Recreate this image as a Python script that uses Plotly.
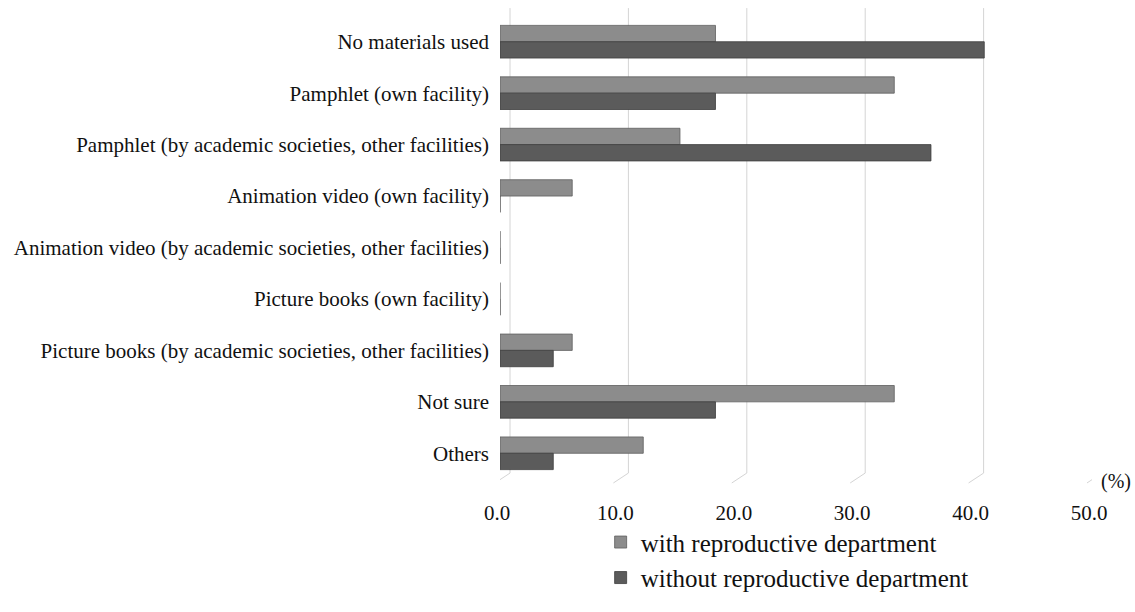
import plotly.graph_objects as go

categories = [
    "No materials used",
    "Pamphlet (own facility)",
    "Pamphlet (by academic societies, other facilities)",
    "Animation video (own facility)",
    "Animation video (by academic societies, other facilities)",
    "Picture books (own facility)",
    "Picture books (by academic societies, other facilities)",
    "Not sure",
    "Others",
]
with_dept = [18.2, 33.3, 15.2, 6.1, 0.0, 0.0, 6.1, 33.3, 12.1]
without_dept = [40.9, 18.2, 36.4, 0.0, 0.0, 0.0, 4.5, 18.2, 4.5]
tick_vals = [0, 10, 20, 30, 40, 50]
tick_text = ["0.0", "10.0", "20.0", "30.0", "40.0", "50.0"]
series_names = ["with reproductive department", "without reproductive department"]

FONT = "Liberation Serif, Times New Roman, serif"
PLOT_H = 468

fig = go.Figure()
fig.add_trace(go.Bar(
    y=categories, x=with_dept, orientation="h", name=series_names[0],
    marker=dict(color="#8c8c8c", line=dict(color="#5e5e5e", width=0.8)),
    legendgroup="a",
))
fig.add_trace(go.Bar(
    y=categories, x=without_dept, orientation="h", name=series_names[1],
    marker=dict(color="#5b5b5b", line=dict(color="#3e3e3e", width=0.8)),
    legendgroup="b",
))

shapes = []
for v in tick_vals:
    # back-wall gridline (3D look)
    shapes.append(dict(type="line", xref="x", xsizemode="pixel", xanchor=v,
                       x0=10, x1=10, yref="paper", y0=6 / PLOT_H, y1=1 + 8 / PLOT_H,
                       line=dict(color="#d4d4d4", width=1), layer="below"))
    # floor foot
    shapes.append(dict(type="line", xref="x", xsizemode="pixel", xanchor=v,
                       x0=-5, x1=10, yref="paper", y0=-4 / PLOT_H, y1=6 / PLOT_H,
                       line=dict(color="#d4d4d4", width=1), layer="below"))

fig.update_layout(
    width=1135, height=612,
    margin=dict(l=500, r=43, t=16, b=128),
    paper_bgcolor="white", plot_bgcolor="white",
    barmode="group", bargap=0.365, bargroupgap=0,
    font=dict(family=FONT, size=21, color="#111111"),
    shapes=shapes,
    showlegend=True,
    legend=dict(x=0.17, y=-0.262, xanchor="left", yanchor="bottom",
                orientation="v", font=dict(size=25, family=FONT, color="#111111"),
                tracegroupgap=0, bgcolor="rgba(0,0,0,0)"),
    annotations=[dict(text="(%)", xref="paper", yref="paper", x=1.04, y=-0.005,
                      showarrow=False, font=dict(size=20, family=FONT, color="#111111"),
                      xanchor="center", yanchor="middle")],
)
fig.update_xaxes(range=[0, 50], tickvals=tick_vals, ticktext=tick_text,
                 showgrid=False, zeroline=False, showline=False, ticks="",
                 ticklabelstandoff=19, ticklabelshift=-3, fixedrange=True)
fig.update_yaxes(autorange="reversed", showgrid=False, zeroline=False, showline=False,
                 ticks="", ticklabelstandoff=10, fixedrange=True)

fig.write_html("out.html")
